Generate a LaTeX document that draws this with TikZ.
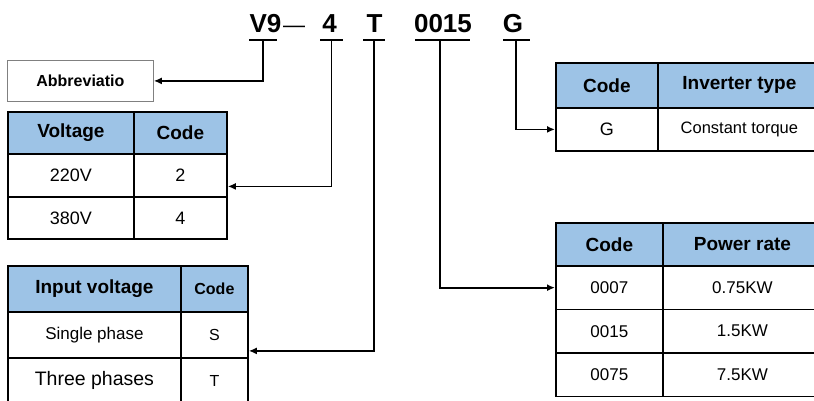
\documentclass[tikz,border=0pt]{standalone}
\usepackage{fontspec}
\setmainfont{Liberation Sans}
\usetikzlibrary{arrows.meta}
\definecolor{headblue}{RGB}{157,195,230}

\begin{document}
\begin{tikzpicture}[x=1pt, y=-1pt,
    cell/.style={draw, line width=1.8pt, anchor=north west, inner sep=0pt},
    headcell/.style={cell, fill=headblue, font=\fontsize{19}{22}\selectfont\bfseries},
    bodycell/.style={cell, font=\fontsize{17}{20}\selectfont},
    codetext/.style={anchor=base, inner sep=0pt, font=\fontsize{26}{30}\selectfont\bfseries},
    tap/.style={line width=1.4pt},
    feed/.style={line width=1.7pt, -{Latex[length=8pt,width=7pt]}}]
    \useasboundingbox (0,0) rectangle (814,400);
    \clip (0,0) rectangle (814,400);

    % model code
    \node[codetext] (v9) at (265.5,32) {V9};
    \node[anchor=base, inner sep=0pt, font=\fontsize{22}{24}\selectfont] (dash) at (294,32) {—};
    \node[codetext] (four) at (329.5,32) {4};
    \node[codetext] (tee) at (374.5,32) {T};
    \node[codetext] (rate) at (443,32) {0015};
    \node[codetext] (gee) at (513,32) {G};

    % underlines below each part of the code
    \coordinate (v9-tap) at (263,40);
    \coordinate (four-tap) at (331.5,40);
    \coordinate (tee-tap) at (374,40);
    \coordinate (rate-tap) at (440,40);
    \coordinate (gee-tap) at (516,40);
    \draw[tap] (249,40) -- (277,40);
    \draw[tap] (320,40) -- (343,40);
    \draw[tap] (363,40) -- (385,40);
    \draw[tap] (415,40) -- (470,40);
    \draw[tap] (503,40) -- (530,40);

    % abbreviation box
    \node[draw=gray, line width=0.8pt, anchor=north west, minimum width=146, minimum height=41,
          font=\fontsize{16}{19}\selectfont\bfseries] (abbr) at (7,60) {Abbreviatio};

    % voltage table
    \node[headcell, minimum width=126, minimum height=42] (volt-h1) at (7,111) {Voltage};
    \node[headcell, minimum width=93, minimum height=42] (volt-h2) at (133,111) {Code};
    \node[bodycell, font=\fontsize{18}{21}\selectfont, minimum width=126, minimum height=43] (volt-a1) at (7,153) {220V};
    \node[bodycell, font=\fontsize{18}{21}\selectfont, minimum width=93, minimum height=43] (volt-a2) at (133,153) {2};
    \node[bodycell, font=\fontsize{18}{21}\selectfont, minimum width=126, minimum height=42] (volt-b1) at (7,196) {380V};
    \node[bodycell, font=\fontsize{18}{21}\selectfont, minimum width=93, minimum height=42] (volt-b2) at (133,196) {4};

    % input voltage table
    \node[headcell, minimum width=173, minimum height=46] (inp-h1) at (7,265) {Input voltage};
    \node[headcell, font=\fontsize{16}{19}\selectfont\bfseries, minimum width=67, minimum height=46] (inp-h2) at (180,265) {Code};
    \node[bodycell, minimum width=173, minimum height=46] (inp-a1) at (7,311) {Single phase};
    \node[bodycell, font=\fontsize{16}{19}\selectfont, minimum width=67, minimum height=46] (inp-a2) at (180,311) {S};
    \node[bodycell, font=\fontsize{19.5}{22}\selectfont, minimum width=173, minimum height=46] (inp-b1) at (7,357) {Three phases};
    \node[bodycell, font=\fontsize{16}{19}\selectfont, minimum width=67, minimum height=46] (inp-b2) at (180,357) {T};

    % inverter type table
    \node[headcell, minimum width=102, minimum height=45] (inv-h1) at (555,62) {Code};
    \node[headcell, minimum width=163, minimum height=45] (inv-h2) at (657,62) {Inverter type};
    \node[bodycell, font=\fontsize{18}{21}\selectfont, minimum width=102, minimum height=43] (inv-a1) at (555,107) {G};
    \node[bodycell, font=\fontsize{16.5}{19}\selectfont, minimum width=163, minimum height=43] (inv-a2) at (657,107) {Constant torque};

    % power rate table
    \node[headcell, minimum width=107, minimum height=43] (pow-h1) at (555,222) {Code};
    \node[headcell, minimum width=159, minimum height=43] (pow-h2) at (662,222) {Power rate};
    \foreach \code/\kw [count=\r] in {0007/0.75KW, 0015/1.5KW, 0075/7.5KW} {
        \node[bodycell, minimum width=107, minimum height=43.5] (pow-r\r1) at (555,{265+43.5*(\r-1)}) {\code};
        \node[bodycell, minimum width=159, minimum height=43.5] (pow-r\r2) at (662,{265+43.5*(\r-1)}) {\kw};
    }

    % connectors
    \draw[feed] (v9-tap) |- (abbr.east);
    \draw[feed] (four-tap) |- ([yshift=-11]volt-a2.east);
    \draw[feed] (tee-tap) |- ([yshift=-16]inp-a2.east);
    \draw[feed] (rate-tap) |- (pow-r11.west);
    \draw[feed] (gee-tap) |- (inv-a1.west);
\end{tikzpicture}
\end{document}
